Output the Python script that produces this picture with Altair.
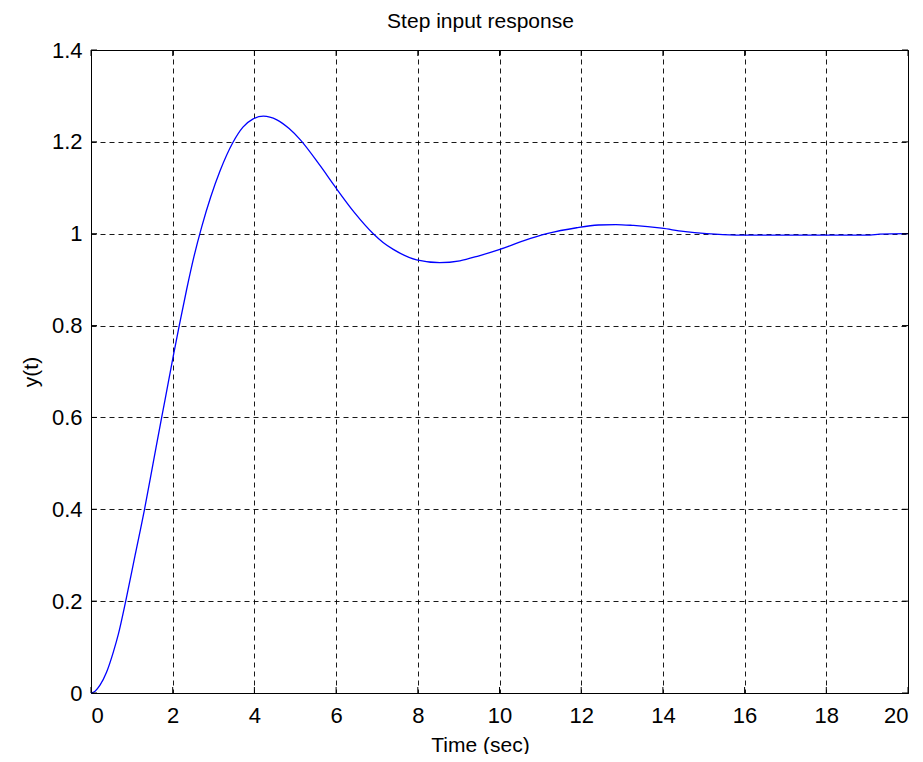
import altair as alt
import pandas as pd

# ---- data ----
time_s = [0, 0.1, 0.22, 0.38, 0.55, 0.67, 0.85, 1.08, 1.31, 1.52, 1.73, 1.89, 2.01,
          2.16, 2.34, 2.52, 2.71, 2.93, 3.16, 3.47, 3.72, 3.97, 4.22, 4.55, 4.85,
          5.12, 5.61, 5.97, 6.45, 6.91, 7.15, 7.40, 7.97, 8.54, 9.03, 9.5, 10.01, 10.6,
          11.16, 11.89, 12.42, 12.85, 13.28, 13.97, 14.50, 15.07, 15.77, 16.5,
          17.5, 18.5, 19.07, 19.3, 20]
response = [0, 0.004, 0.017, 0.045, 0.09, 0.128, 0.2, 0.30, 0.4, 0.50, 0.6, 0.675, 0.732,
            0.8, 0.878, 0.950, 1.015, 1.080, 1.137, 1.198, 1.232, 1.250, 1.256, 1.248, 1.229,
            1.205, 1.148, 1.103, 1.046, 1.0, 0.981, 0.966, 0.943, 0.937, 0.941, 0.952, 0.966,
            0.985, 1.0, 1.013, 1.019, 1.02, 1.018, 1.012, 1.005, 1.0, 0.997, 0.997,
            0.997, 0.997, 0.997, 0.999, 1.0]
x_ticks = [0, 2, 4, 6, 8, 10, 12, 14, 16, 18, 20]
y_ticks = [0, 0.2, 0.4, 0.6, 0.8, 1.0, 1.2, 1.4]
y_labels_expr = "datum.value == 0 ? '0' : datum.value == 1 ? '1' : format(datum.value, '.1f')"

W, H = 817, 643
FONT = "Liberation Sans, Arial, sans-serif"
TICK = 6

df = pd.DataFrame({"t": time_s, "y": response})
xt = pd.DataFrame({"v": x_ticks})
yt = pd.DataFrame({"v": y_ticks})

x_scale = alt.Scale(domain=[0, 20], nice=False, zero=False)
y_scale = alt.Scale(domain=[0, 1.4], nice=False, zero=False)

line = alt.Chart(df).mark_line(color="#0000ff", strokeWidth=1.3, interpolate="monotone").encode(
    x=alt.X("t:Q", scale=x_scale,
            axis=alt.Axis(values=x_ticks, title="Time (sec)", format="d",
                          labelPadding=12, titlePadding=8, titleX=389)),
    y=alt.Y("y:Q", scale=y_scale,
            axis=alt.Axis(values=y_ticks, title="y(t)", labelExpr=y_labels_expr,
                          labelPadding=9, titlePadding=10)),
)

rule_style = dict(color="black", strokeWidth=1)
bottom_ticks = alt.Chart(xt).mark_rule(**rule_style).encode(
    x=alt.X("v:Q", scale=x_scale), y=alt.value(H), y2=alt.value(H - TICK))
top_ticks = alt.Chart(xt).mark_rule(**rule_style).encode(
    x=alt.X("v:Q", scale=x_scale), y=alt.value(0), y2=alt.value(TICK))
left_ticks = alt.Chart(yt).mark_rule(**rule_style).encode(
    y=alt.Y("v:Q", scale=y_scale), x=alt.value(0), x2=alt.value(TICK))
right_ticks = alt.Chart(yt).mark_rule(**rule_style).encode(
    y=alt.Y("v:Q", scale=y_scale), x=alt.value(W), x2=alt.value(W - TICK))

chart = alt.layer(line, bottom_ticks, top_ticks, left_ticks, right_ticks).properties(
    width=W, height=H,
    background="white",
    title=alt.TitleParams("Step input response", fontSize=21, font=FONT,
                          fontWeight="normal", color="black", dx=-19, offset=7),
    autosize=alt.AutoSizeParams(type="none"),
    padding={"left": 83, "top": 42, "right": 7, "bottom": 61},
).configure_view(
    stroke="black", strokeWidth=1
).configure_axis(
    grid=True, gridColor="black", gridDash=[5, 4], gridWidth=1, gridOpacity=0.9,
    domainColor="black", domainWidth=1,
    ticks=False, tickSize=0,
    labelFont=FONT, labelFontSize=22, labelColor="black",
    titleFont=FONT, titleFontSize=21, titleFontWeight="normal", titleColor="black",
)

chart.save("out.html", embed_options={"renderer": "svg", "actions": False})
